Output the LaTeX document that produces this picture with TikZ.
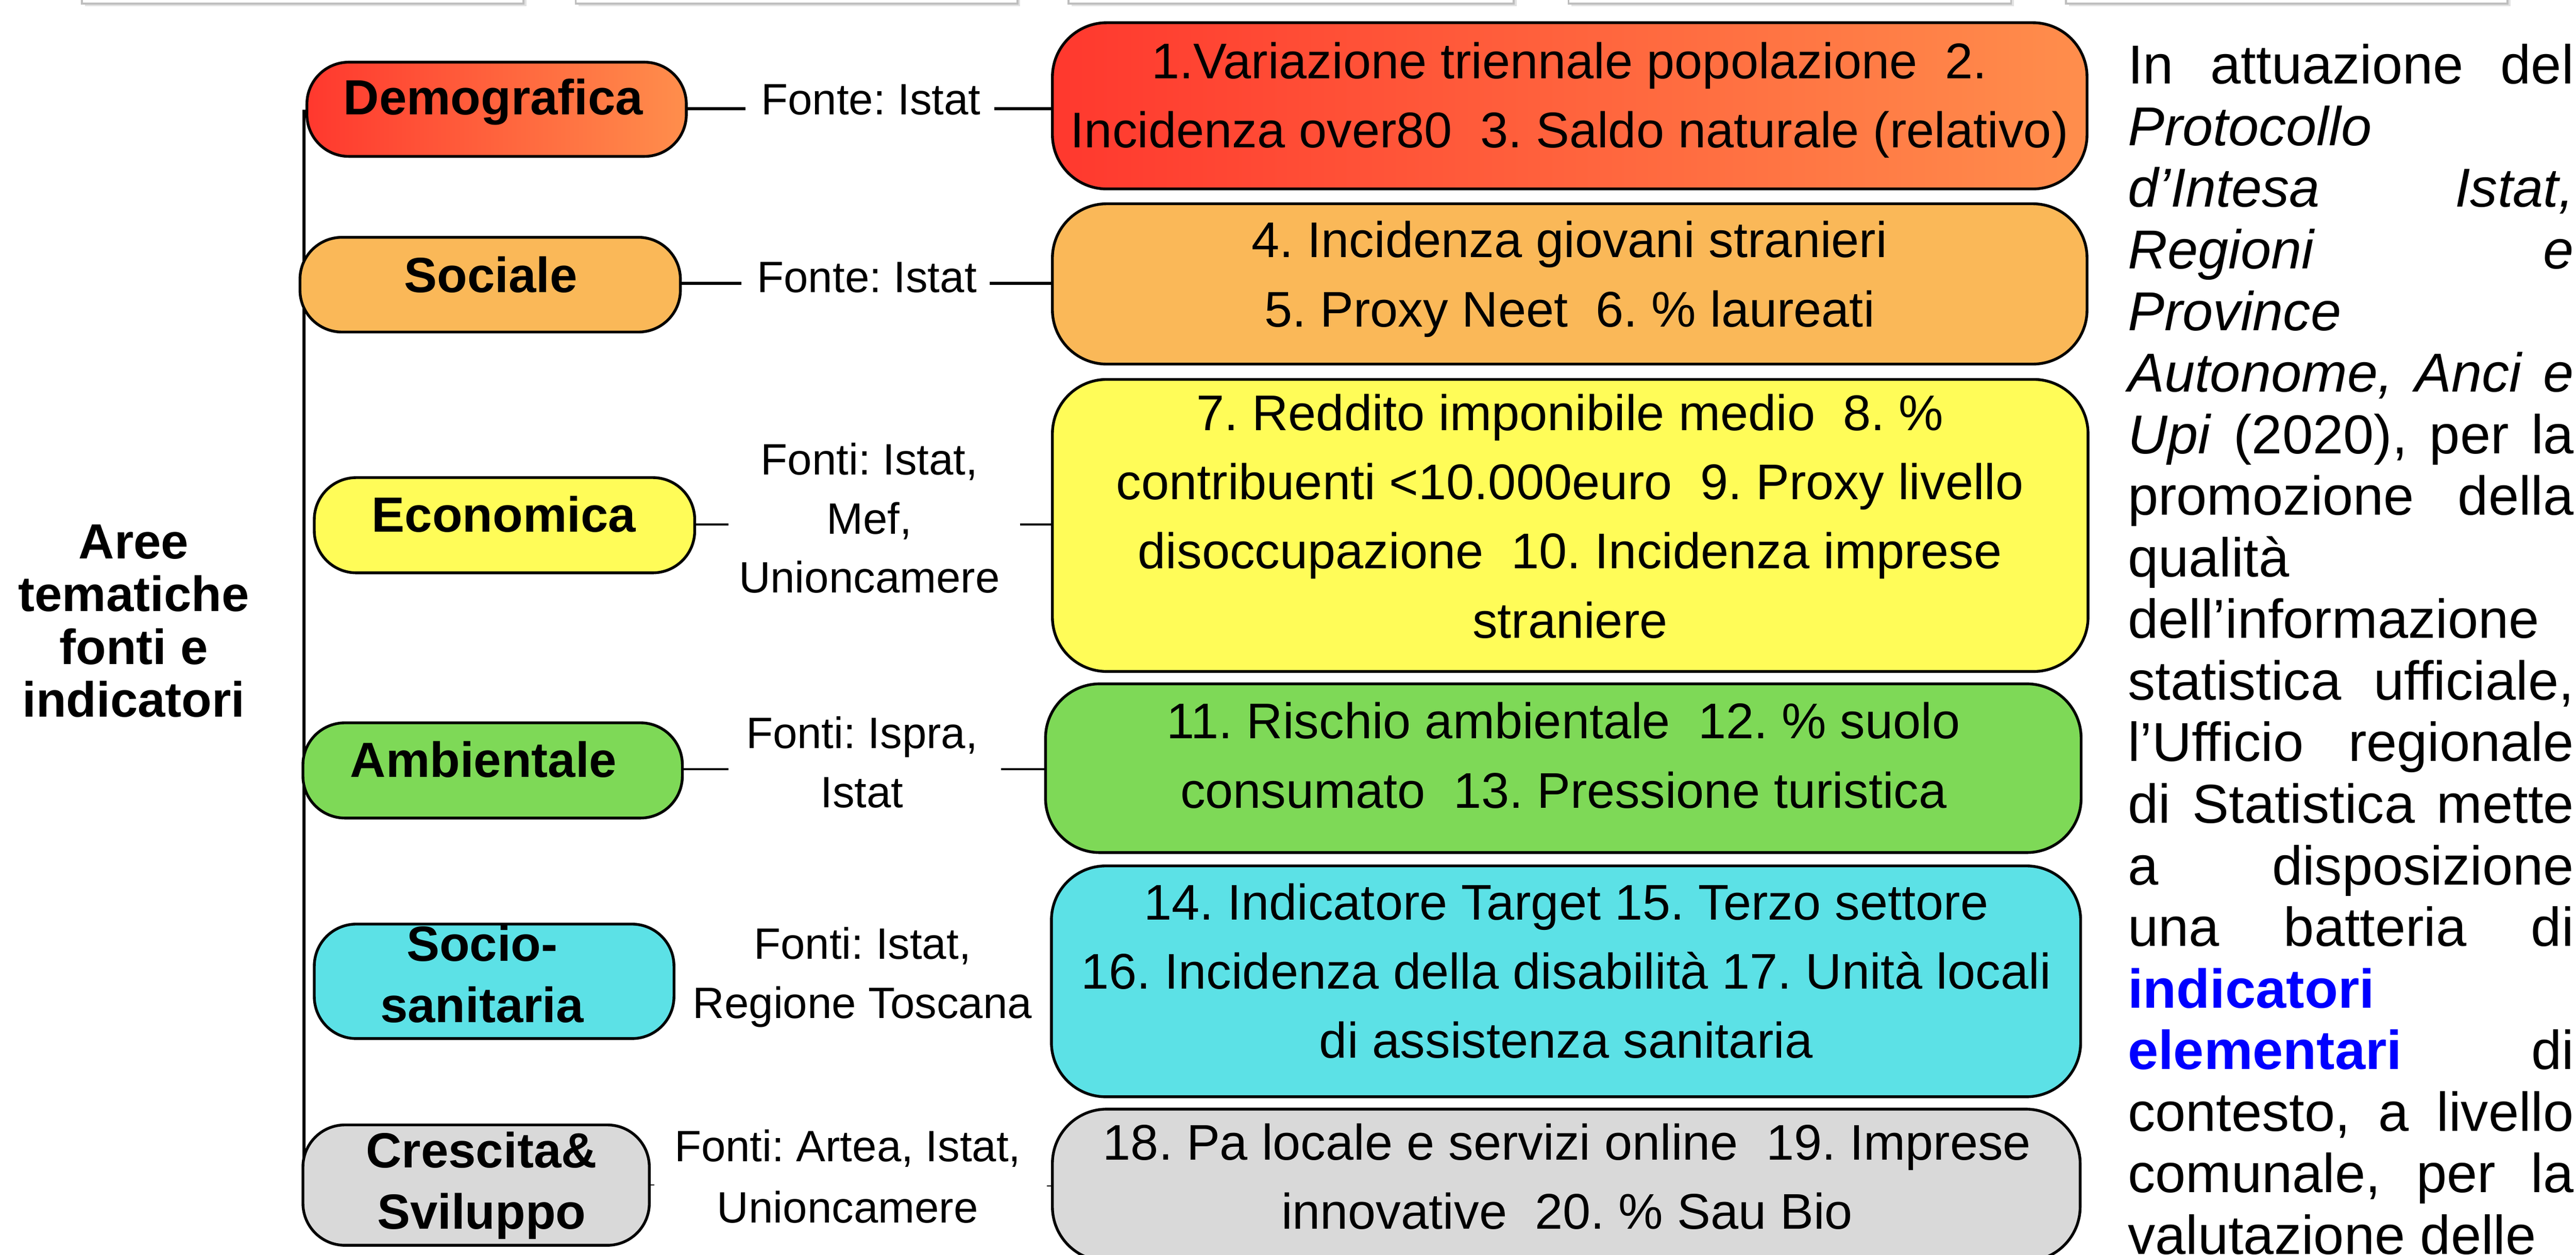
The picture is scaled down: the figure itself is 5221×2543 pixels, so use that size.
\documentclass[tikz,border=0pt]{standalone}
\usepackage{fontspec}
\setmainfont{Liberation Sans}[Ligatures={TeX,NoCommon}]
\usetikzlibrary{fit}
\newdimen\pxu \pxu=0.01cm
\definecolor{cRedL}{RGB}{255,56,46}
\definecolor{cRedR}{RGB}{255,142,76}
\definecolor{cOrange}{RGB}{250,184,88}
\definecolor{cYellow}{RGB}{255,252,88}
\definecolor{cGreen}{RGB}{126,217,87}
\definecolor{cCyan}{RGB}{92,225,230}
\definecolor{cGray}{RGB}{217,217,217}
\definecolor{cBlue}{RGB}{0,0,255}
\definecolor{topline}{RGB}{190,190,190}
\definecolor{topshadow}{RGB}{225,225,225}
\newcommand{\jl}[1]{\makebox[\linewidth][s]{#1}}
\begin{document}
\frenchspacing
\begin{tikzpicture}[x=0.01cm, y=-0.01cm,
  box/.style={draw=black, line width=1.6pt, inner sep=0pt, outer sep=0pt, rectangle},
  catbox/.style={box, rounded corners=0.85cm},
  indbox/.style={box, rounded corners=1.1cm},
  cattext/.style={inner sep=0pt, anchor=base, font=\bfseries\fontsize{28.5pt}{35.3pt}\selectfont},
  srctext/.style={inner sep=0pt, anchor=base, font=\fontsize{25.3pt}{34.1pt}\selectfont},
  indtext/.style={inner sep=0pt, anchor=base, font=\fontsize{28.9pt}{39.9pt}\selectfont},
  thicklink/.style={line width=1.75pt},
  thinlink/.style={line width=1.1pt},
  topbox/.style={draw=topline, line width=1.1pt, fill=white, inner sep=0pt, outer sep=0pt, rectangle},
  topshade/.style={fill=topshadow, inner sep=0pt, outer sep=0pt, rectangle},
]
\useasboundingbox (0,0) rectangle (5221,2543);
\clip (0,0) rectangle (5221,2543);

% top strip of partial boxes
\foreach \a/\b [count=\i] in {166/1061, 1167/2062, 2166/3068, 3179/4076, 4187/5082} {
  \node[topshade, fit={(\a+6,-80) (\b+6,13)}] (tops\i) {};
  \node[topbox, fit={(\a,-80) (\b,7)}] (top\i) {};
}

% trunk
\coordinate (trunkTop) at (616,222);
\coordinate (trunkBot) at (616,2404);
\draw[line width=1.7pt] (trunkTop) -- (trunkBot);

% category boxes
\node[catbox, left color=cRedL, right color=cRedR, fit={(622,126) (1391,317)}] (demo) {};
\node[catbox, fill=cOrange, fit={(608,481) (1379,673)}] (soc) {};
\node[catbox, fill=cYellow, fit={(637,968) (1408,1161)}] (eco) {};
\node[catbox, fill=cGreen, fit={(614,1465) (1383,1658)}] (amb) {};
\node[catbox, fill=cCyan, fit={(637,1873) (1366,2105)}] (san) {};
\node[catbox, fill=cGray, fit={(614,2280) (1316,2524)}] (cre) {};

% indicator boxes
\node[indbox, left color=cRedL, right color=cRedR, fit={(2133,46) (4230,383)}] (idemo) {};
\node[indbox, fill=cOrange, fit={(2133,413) (4230,738)}] (isoc) {};
\node[indbox, fill=cYellow, fit={(2133,769) (4232,1361)}] (ieco) {};
\node[indbox, fill=cGreen, fit={(2119,1386) (4218,1728)}] (iamb) {};
\node[indbox, fill=cCyan, fit={(2131,1755) (4217,2223)}] (isan) {};
\node[indbox, fill=cGray, fit={(2133,2248) (4216,2556)}] (icre) {};

% category texts
\node[cattext, font=\bfseries\fontsize{28.5pt}{30.45pt}\selectfont] (aree) at (271,1132)
  {\begin{tabular}[t]{@{}c@{}}Aree\\tematiche\\fonti e\\indicatori\end{tabular}};
\node[cattext] (demoT) at (1000,232) {Demografica};
\node[cattext] (socT) at (995,593) {Sociale};
\node[cattext] (ecoT) at (1021,1078) {Economica};
\node[cattext] (ambT) at (980,1575) {Ambientale};
\node[cattext] (sanT) at (977,1948) {\begin{tabular}[t]{@{}c@{}}Socio-\\sanitaria\end{tabular}};
\node[cattext] (creT) at (976,2367) {\begin{tabular}[t]{@{}c@{}}Crescita\&\\Sviluppo\end{tabular}};

% source texts
\node[srctext] (demoS) at (1765,232) {Fonte: Istat};
\node[srctext] (socS) at (1757,593) {Fonte: Istat};
\node[srctext] (ecoS) at (1762,962) {\begin{tabular}[t]{@{}c@{}}Fonti: Istat,\\Mef,\\Unioncamere\end{tabular}};
\node[srctext] (ambS) at (1747,1517) {\begin{tabular}[t]{@{}c@{}}Fonti: Ispra,\\Istat\end{tabular}};
\node[srctext] (sanS) at (1748,1944) {\begin{tabular}[t]{@{}c@{}}Fonti: Istat,\\Regione Toscana\end{tabular}};
\node[srctext, font=\fontsize{25.3pt}{35.3pt}\selectfont] (creS) at (1718,2354) {\begin{tabular}[t]{@{}c@{}}Fonti: Artea, Istat,\\Unioncamere\end{tabular}};

% indicator texts
\node[indtext] (idemoT) at (3181,159) {\begin{tabular}[t]{@{}c@{}}1.Variazione triennale popolazione\ \ 2.\\Incidenza over80\ \ 3. Saldo naturale (relativo)\end{tabular}};
\node[indtext] (isocT) at (3181,522) {\begin{tabular}[t]{@{}c@{}}4. Incidenza giovani stranieri\\5. Proxy Neet\ \ 6. \% laureati\end{tabular}};
\node[indtext] (iecoT) at (3182,872) {\begin{tabular}[t]{@{}c@{}}7. Reddito imponibile medio\ \ 8. \%\\contribuenti <10.000euro\ \ 9. Proxy livello\\disoccupazione\ \ 10. Incidenza imprese\\straniere\end{tabular}};
\node[indtext] (iambT) at (3169,1497) {\begin{tabular}[t]{@{}c@{}}11. Rischio ambientale\ \ 12. \% suolo\\consumato\ \ 13. Pressione turistica\end{tabular}};
\node[indtext] (isanT) at (3174,1864) {\begin{tabular}[t]{@{}c@{}}14. Indicatore Target 15. Terzo settore\\16. Incidenza della disabilità 17. Unità locali\\di assistenza sanitaria\end{tabular}};
\node[indtext] (icreT) at (3176,2351) {\begin{tabular}[t]{@{}c@{}}18. Pa locale e servizi online\ \ 19. Imprese\\innovative\ \ 20. \% Sau Bio\end{tabular}};

% connectors
\coordinate (dL) at (1511,220);  \coordinate (dR) at (2015,220);
\coordinate (sL) at (1503,574);  \coordinate (sR) at (2006,574);
\coordinate (eL) at (1476,1063); \coordinate (eR) at (2067,1063);
\coordinate (aL) at (1476,1559); \coordinate (aR) at (2029,1559);
\coordinate (cL) at (1326,2402); \coordinate (cR) at (2122,2404);
\draw[thicklink] (demo.east |- dL) -- (dL);
\draw[thicklink] (dR) -- (idemo.west |- dR);
\draw[thicklink] (soc.east |- sL) -- (sL);
\draw[thicklink] (sR) -- (isoc.west |- sR);
\draw[thinlink] (eco.east |- eL) -- (eL);
\draw[thinlink] (eR) -- (ieco.west |- eR);
\draw[thinlink] (amb.east |- aL) -- (aL);
\draw[thinlink] (aR) -- (iamb.west |- aR);
\draw[line width=0.6pt] (cre.east |- cL) -- (cL);
\draw[line width=0.6pt] (cR) -- (icre.west |- cR);

% right paragraph
\node[inner sep=0pt, anchor=base west, font=\fontsize{31.6pt}{35.5pt}\selectfont] (para) at (4312,170)
{\parbox[t]{904\pxu}{%
\jl{In attuazione del}\\
\textit{Protocollo}\\
\jl{\textit{d’Intesa Istat,}}\\
\jl{\textit{Regioni e}}\\
\textit{Province}\\
\jl{\textit{Autonome, Anci e}}\\
\jl{\textit{Upi} (2020), per la}\\
\jl{promozione della}\\
qualità\\
dell’informazione\\
\jl{statistica ufficiale,}\\
\jl{l’Ufficio regionale}\\
\jl{di Statistica mette}\\
\jl{a disposizione}\\
\jl{una batteria di}\\
\textcolor{cBlue}{\textbf{indicatori}}\\
\jl{\textcolor{cBlue}{\textbf{elementari}} di}\\
\jl{contesto, a livello}\\
\jl{comunale, per la}\\
valutazione delle}};
\end{tikzpicture}
\end{document}
